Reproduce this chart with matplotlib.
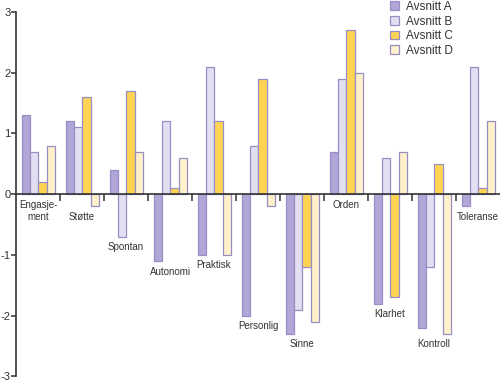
import matplotlib
matplotlib.use("Agg")
import matplotlib.pyplot as plt
import numpy as np

plt.rcParams['font.family'] = ['Liberation Sans', 'DejaVu Sans']
plt.rcParams['axes.unicode_minus'] = False

categories = ["Engasje-\nment", "Støtte", "Spontan", "Autonomi", "Praktisk",
              "Personlig", "Sinne", "Orden", "Klarhet", "Kontroll", "Toleranse"]
series_names = ["Avsnitt A", "Avsnitt B", "Avsnitt C", "Avsnitt D"]
avsnitt_a = [1.3, 1.2, 0.4, -1.1, -1.0, -2.0, -2.3, 0.7, -1.8, -2.2, -0.2]
avsnitt_b = [0.7, 1.1, -0.7, 1.2, 2.1, 0.8, -1.9, 1.9, 0.6, -1.2, 2.1]
avsnitt_c = [0.2, 1.6, 1.7, 0.1, 1.2, 1.9, -1.2, 2.7, -1.7, 0.5, 0.1]
avsnitt_d = [0.8, -0.2, 0.7, 0.6, -1.0, -0.2, -2.1, 2.0, 0.7, -2.3, 1.2]
yticks = [-3, -2, -1, 0, 1, 2, 3]

colors = ["#b1a6d8", "#e2dff2", "#ffd453", "#fff1c9"]
edge = "#9a8dc6"

fig = plt.figure(figsize=(5.0, 3.81), dpi=100)
ax = fig.add_axes([0.032, 0.012, 0.968, 0.957])

x = np.arange(len(categories))
w = 0.19
all_series = [avsnitt_a, avsnitt_b, avsnitt_c, avsnitt_d]
handles = []
for i, (vals, col, name) in enumerate(zip(all_series, colors, series_names)):
    b = ax.bar(x + (i - 1.5) * w + 0.01, vals, width=w, color=col,
               edgecolor=edge, linewidth=0.9, label=name, zorder=2)
    handles.append(b)

ax.set_xlim(-0.5, len(categories) - 0.5)
ax.set_ylim(-3, 3)
ax.set_yticks(yticks)
ax.set_yticklabels([str(t) for t in yticks], fontsize=8, color="#222222")
ax.tick_params(axis='y', direction='out', length=3.5, width=1.1, pad=0.5, colors="#333333")
ax.set_xticks(np.arange(len(categories) - 1) + 0.5)
ax.set_xticklabels([])
ax.tick_params(axis='x', direction='out', length=5, width=1.1, colors="#333333")

for s in ['top', 'right']:
    ax.spines[s].set_visible(False)
ax.spines['bottom'].set_position(('data', 0))
ax.spines['bottom'].set_zorder(3)
for s in ['left', 'bottom']:
    ax.spines[s].set_linewidth(1.2)
    ax.spines[s].set_color("#333333")

# category labels under the lowest bar of each group
for xi, cat in enumerate(categories):
    low = min(0, min(s[xi] for s in all_series))
    ax.annotate(cat, xy=(xi, low), xytext=(0, -4), textcoords='offset points',
                ha='center', va='top', fontsize=7, color="#333333",
                linespacing=1.3)

leg = fig.legend(handles=handles, labels=series_names, loc='upper left',
                 bbox_to_anchor=(0.77, 1.01), frameon=False, fontsize=8.5,
                 handlelength=0.75, handleheight=0.75, handletextpad=0.6,
                 labelspacing=0.22, borderaxespad=0)
for t in leg.get_texts():
    t.set_color("#333333")

fig.savefig("out.png", dpi=100)
